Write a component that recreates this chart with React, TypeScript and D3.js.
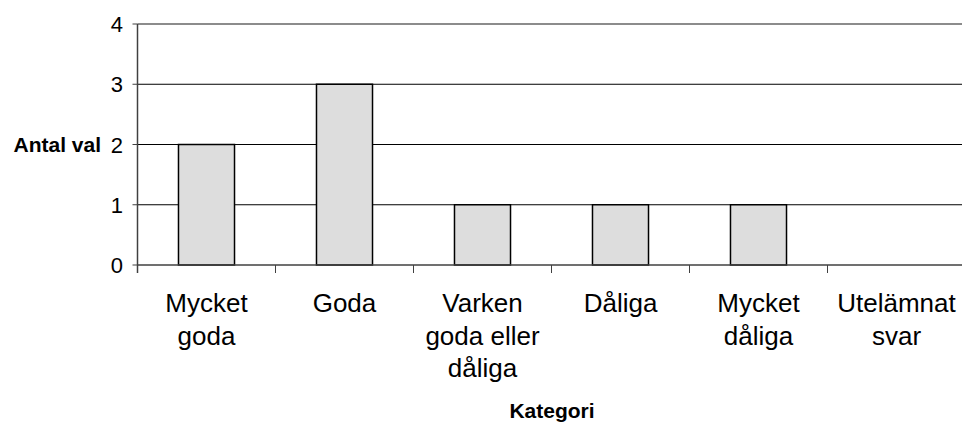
import React from "react";
import * as d3 from "d3";

const categories: string[][] = [
  ["Mycket", "goda"],
  ["Goda"],
  ["Varken", "goda eller", "dåliga"],
  ["Dåliga"],
  ["Mycket", "dåliga"],
  ["Utelämnat", "svar"],
];
const values: number[] = [2, 3, 1, 1, 1, 0];
const yTicks: number[] = [0, 1, 2, 3, 4];
const yLabel = "Antal val";
const xLabel = "Kategori";

const W = 962;
const H = 423;
const left = 137.5;
const step = 138;
const top = 24;
const bottom = 265;

export default function App() {
  const keys = categories.map((_, i) => String(i));
  const x = d3
    .scaleBand<string>()
    .domain(keys)
    .range([left, left + step * keys.length])
    .paddingInner(0.594)
    .paddingOuter(0.297);
  const xb = d3.scaleBand<string>().domain(keys).range([left, left + step * keys.length]);
  const y = d3.scaleLinear().domain([0, 4]).range([bottom, top]);
  const font = "Arial, 'Liberation Sans', sans-serif";

  return (
    <svg
      width={W}
      height={H}
      style={{ position: "absolute", left: 0, top: 0, background: "#fff" }}
    >
      {/* gridlines */}
      {yTicks.map((t) =>
        t === 0 ? null : (
          <line
            key={"g" + t}
            x1={left}
            x2={W}
            y1={y(t)}
            y2={y(t)}
            stroke={t === 4 ? "#8c8c8c" : "#000"}
            strokeWidth={t === 4 ? 2 : 1}
          />
        )
      )}
      {/* bars */}
      {values.map((v, i) =>
        v > 0 ? (
          <rect
            key={"b" + i}
            x={x(String(i))!}
            y={y(v)}
            width={x.bandwidth()}
            height={y(0) - y(v)}
            fill="#dddddd"
            stroke="#000"
            strokeWidth={1.5}
          />
        ) : null
      )}
      {/* x axis */}
      <line x1={left} x2={W} y1={bottom} y2={bottom} stroke="#404040" strokeWidth={1.5} />
      {keys.map((k) => (
        <line
          key={"xt" + k}
          x1={xb(k)!}
          x2={xb(k)!}
          y1={bottom}
          y2={bottom + 8}
          stroke="#404040"
          strokeWidth={1}
        />
      ))}
      {/* y axis */}
      <line x1={left} x2={left} y1={top} y2={bottom + 8} stroke="#404040" strokeWidth={1.5} />
      {yTicks.map((t) => (
        <g key={"yt" + t}>
          <line x1={left - 5} x2={left} y1={y(t)} y2={y(t)} stroke="#404040" strokeWidth={1} />
          <text
            x={123}
            y={y(t) + 8}
            textAnchor="end"
            fontFamily={font}
            fontSize={22}
            fill="#000"
          >
            {t}
          </text>
        </g>
      ))}
      {/* category labels */}
      {categories.map((lines, i) =>
        lines.map((ln, j) => (
          <text
            key={"c" + i + "_" + j}
            x={xb(String(i))! + xb.bandwidth() / 2}
            y={312 + j * 32.5}
            textAnchor="middle"
            fontFamily={font}
            fontSize={26}
            fill="#000"
          >
            {ln}
          </text>
        ))
      )}
      {/* axis titles */}
      <text
        x={101}
        y={152}
        textAnchor="end"
        fontFamily={font}
        fontSize={21}
        fontWeight="bold"
        fill="#000"
      >
        {yLabel}
      </text>
      <text
        x={552}
        y={418}
        textAnchor="middle"
        fontFamily={font}
        fontSize={21}
        fontWeight="bold"
        fill="#000"
      >
        {xLabel}
      </text>
    </svg>
  );
}
